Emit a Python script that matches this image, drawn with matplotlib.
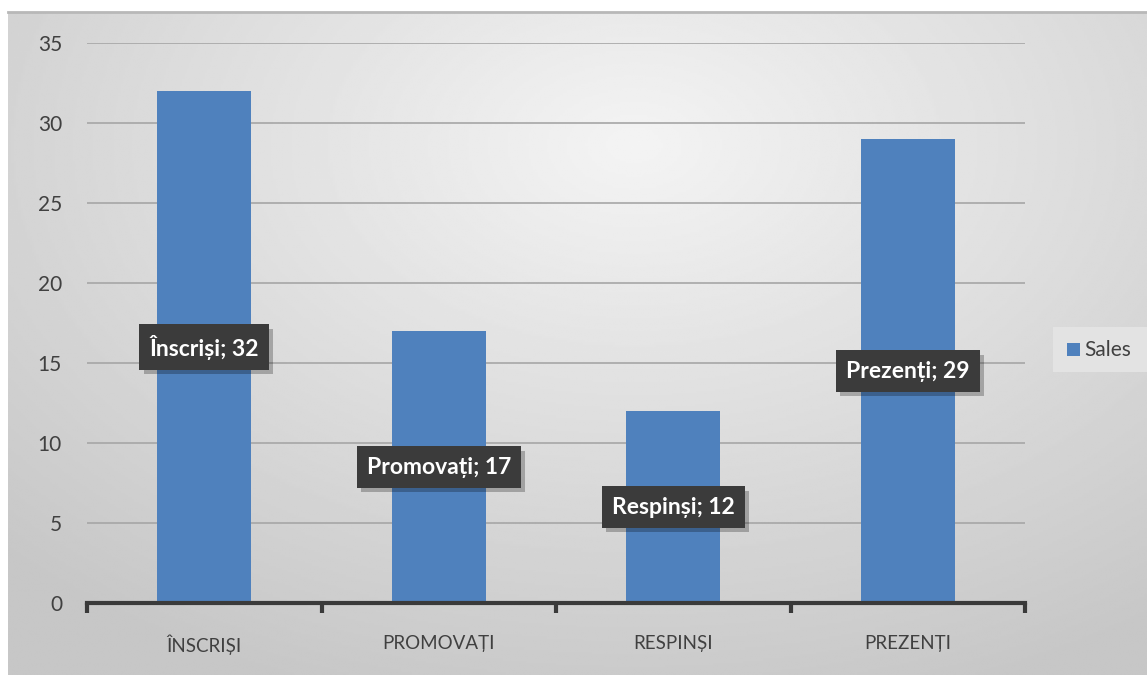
import matplotlib
matplotlib.use("Agg")
import matplotlib.pyplot as plt
import matplotlib.patheffects as pe
import numpy as np
from matplotlib.patches import Rectangle

plt.rcParams["font.family"] = ["Lato", "DejaVu Sans"]

categories = ["ÎNSCRIȘI", "PROMOVAȚI", "RESPINȘI", "PREZENȚI"]
label_names = ["Înscriși", "Promovați", "Respinși", "Prezenți"]
values = [32, 17, 12, 29]
series_name = "Sales"

W, H = 1147, 675
fig = plt.figure(figsize=(W / 100, H / 100), dpi=100, facecolor="white")

# chart area with a soft radial gradient
bg = fig.add_axes([8 / W, 0, 1 - 8 / W, 1 - 12 / H])
yy, xx = np.mgrid[0:1:300j, 0:1:500j]
r = np.sqrt(((xx - 0.55) / 0.8) ** 2 + ((yy - 0.2) / 0.9) ** 2)
shade = np.clip(0.955 - 0.18 * r, 0.78, 0.96)
bg.imshow(shade, cmap="gray", vmin=0, vmax=1, aspect="auto",
          extent=[0, 1, 0, 1], origin="upper")
bg.set_xlim(0, 1)
bg.set_ylim(0, 1)
bg.axis("off")
bg.plot([0, 1], [1, 1], color="#b8b8b8", lw=2, transform=bg.transAxes, clip_on=False)

ax = fig.add_axes([87 / W, 1 - 603 / H, (1025 - 87) / W, (603 - 43) / H])
ax.patch.set_alpha(0)
x = np.arange(len(categories))
ax.bar(x, values, width=0.4, color="#4f81bd", zorder=3)

ax.set_xlim(-0.5, len(categories) - 0.5)
ax.set_ylim(0, 35)
ax.set_yticks(np.arange(0, 36, 5))
ax.yaxis.grid(True, color="#a6a6a6", lw=1.2, zorder=0)
ax.tick_params(axis="y", length=0, pad=18, labelsize=15, labelcolor="#404040")
ax.set_xticks(x)
ax.set_xticklabels(categories)
ax.tick_params(axis="x", length=0, pad=23, labelsize=13.5, labelcolor="#404040")
ax.set_xticks(np.arange(-0.5, len(categories)), minor=True)
ax.tick_params(axis="x", which="minor", length=7, width=3, color="#3a3a3a", direction="out")
for s in ["top", "right", "left"]:
    ax.spines[s].set_visible(False)
ax.spines["bottom"].set_color("#3a3a3a")
ax.spines["bottom"].set_linewidth(3)
ax.spines["bottom"].set_zorder(4)

# data labels in dark boxes with a soft drop shadow
for xi, v, name in zip(x, values, label_names):
    t = ax.annotate(f"{name}; {v}", (xi, v / 2), ha="center", va="center",
                    fontsize=16.5, fontweight="bold", color="white", zorder=6,
                    bbox=dict(boxstyle="square,pad=0.44", fc="#3b3b3b", ec="none"))
    t.get_bbox_patch().set_path_effects([
        pe.SimplePatchShadow(offset=(3, -3), shadow_rgbFace="black", alpha=0.25),
        pe.Normal(),
    ])

# legend box
fig.patches.append(Rectangle((1053 / W, 1 - 372 / H), 94 / W, 45 / H,
                             transform=fig.transFigure, fc="#e3e3e3", ec="none"))
fig.patches.append(Rectangle((1067 / W, 1 - 356 / H), 13 / W, 13 / H,
                             transform=fig.transFigure, fc="#4f81bd", ec="none"))
fig.text(1084 / W, 1 - 349.5 / H, series_name, fontsize=15, color="#404040",
         va="center", ha="left")

fig.savefig("out.png", dpi=100)
